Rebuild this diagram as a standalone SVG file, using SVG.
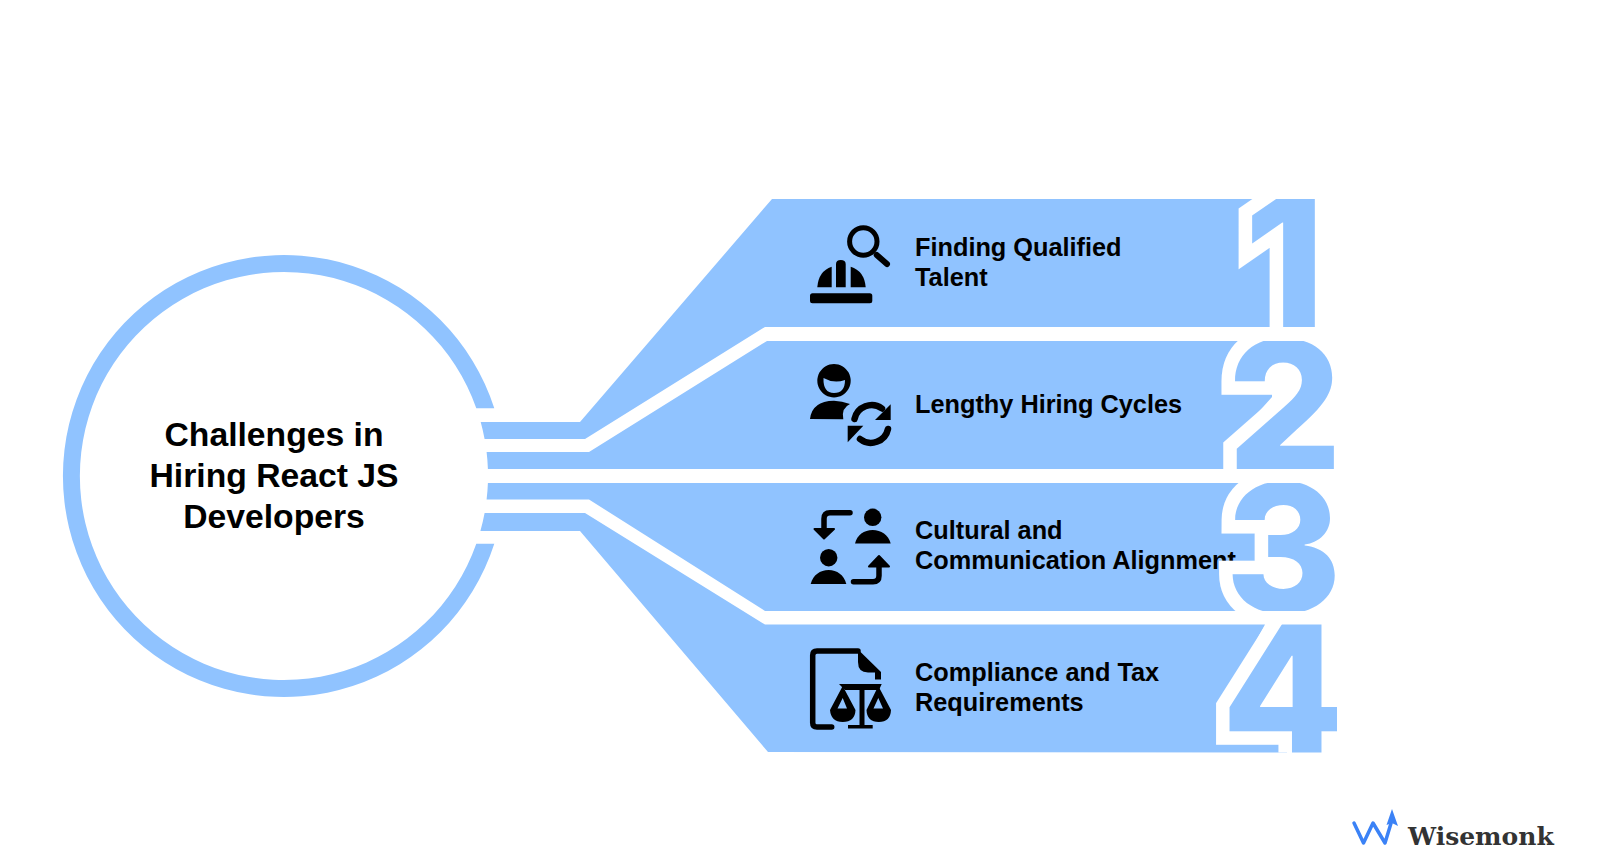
<svg xmlns="http://www.w3.org/2000/svg" width="1600" height="860" viewBox="0 0 1600 860">
<style>
.b{fill:#90C3FF}
.k{fill:#000}
.s{fill:none;stroke:#000;stroke-width:5.5;stroke-linecap:round;stroke-linejoin:round}
.r{fill:none;stroke:#000;stroke-width:6.5;stroke-linecap:round}
.t{font-family:"Liberation Sans",Arial,sans-serif;font-weight:700;font-size:25.3px;fill:#000}
.h{font-family:"Liberation Sans",Arial,sans-serif;font-weight:700;font-size:33.7px;fill:#000;text-anchor:middle}
.d{font-family:Inter,"Liberation Sans",sans-serif;font-weight:760;font-size:184px;fill:#90C3FF;stroke:#fff;stroke-width:27px;paint-order:stroke;stroke-linejoin:miter}
.e{font-size:178px;font-weight:780}
</style>
<defs>
<clipPath id="c1"><rect x="1100" y="199" width="300" height="128"/></clipPath>
<clipPath id="c2"><rect x="1100" y="341" width="300" height="128"/></clipPath>
<clipPath id="c3"><rect x="1100" y="483" width="300" height="128"/></clipPath>
<clipPath id="c4"><rect x="1100" y="624.5" width="300" height="128"/></clipPath>
</defs>
<rect width="1600" height="860" fill="#fff"/>
<g id="hub">
<path class="b" d="M494.3,408.3A221,221 0 1 0 494.3,543.7L476.3,543.7A204,204 0 1 1 476.3,408.3Z"/>
<text class="h" x="274" y="446">Challenges in</text>
<text class="h" x="274" y="486.5">Hiring React JS</text>
<text class="h" x="274" y="527.5">Developers</text>
</g>
<g id="node-1">
<path class="b" d="M480.7,422H580L772,199H1300V327H765L585,439H484.6A204,204 0 0 0 480.7,422Z"/>
<g id="icon-1">
<circle cx="863.3" cy="241.5" r="13.7" fill="none" stroke="#000" stroke-width="5"/>
<path d="M876.7,255L887,264" fill="none" stroke="#000" stroke-width="6" stroke-linecap="round"/>
<rect class="k" x="810" y="293.3" width="62.3" height="10" rx="2.5"/>
<path class="k" d="M836,287.3V264q0,-4 4.8,-4t4.9,4V287.3Z"/>
<path class="k" d="M817.3,287.3H831.7V266.7Q818.5,271 817.3,287.3Z"/>
<path class="k" d="M850.7,287.3H865.7Q864.5,271 850.7,266.7Z"/>
</g>
<text class="t" x="915" y="255.5">Finding Qualified</text>
<text class="t" x="915" y="286">Talent</text>
<text class="d" x="1244" y="329" clip-path="url(#c1)">1</text>
</g>
<g id="node-2">
<path class="b" d="M486.6,452H589L767,341H1247L1227,360V386H1272V397L1229,445V469H487.9A204,204 0 0 0 486.6,452Z"/>
<g id="icon-2">
<path class="k" fill-rule="evenodd" d="M834,364a16.7,16.7 0 1 0 0.01,0ZM823.5,378Q834,384 845,380Q845,393 834,393Q823,393 823.5,378Z"/>
<path class="k" d="M810,419Q812,401 834,400.7Q842,401 850,404Q841,408 843.3,419.3Z"/>
<path class="r" d="M854.5,419A17.5,17.5 0 0 1 882,408.5"/>
<path class="k" d="M890.7,404.3V420H875Z"/>
<path class="r" d="M888,429A17.5,17.5 0 0 1 860,439"/>
<path class="k" d="M847.7,425.7H863.3L847.7,442.3Z"/>
</g>
<text class="t" x="915" y="412.5">Lengthy Hiring Cycles</text>
<text class="d" x="1227" y="470.5" style="font-size:181px" clip-path="url(#c2)">2</text>
</g>
<g id="node-3">
<path class="b" d="M487.9,483H1247L1230,505V524H1260V567H1227V590L1245,611H765L589,499.5H486.6A204,204 0 0 0 487.9,483Z"/>
<g id="icon-3">
<path class="s" d="M850,512.7H830q-6,0 -6,6V530"/>
<path class="k" stroke="#000" stroke-width="2" stroke-linejoin="round" d="M814.5,529H834L824,538.5Z"/>
<circle class="k" cx="872.7" cy="517.3" r="8.7"/>
<path class="k" d="M855,543.5C857,535 864,530 872.7,530C881,530 888.5,535 890.7,543.5Z"/>
<circle class="k" cx="828.7" cy="557.7" r="8.7"/>
<path class="k" d="M810.7,584C813,575 820,570 828.7,570C837,570 844,575 846.3,584Z"/>
<path class="s" d="M853.5,581.7H873q6,0 6,-6V566"/>
<path class="k" stroke="#000" stroke-width="2" stroke-linejoin="round" d="M869,566.5H889L879,556Z"/>
</g>
<text class="t" x="915" y="539">Cultural and</text>
<text class="t" x="915" y="569">Communication Alignment</text>
<text class="d e" x="1225" y="611.5" clip-path="url(#c3)">3</text>
</g>
<g id="node-4">
<path class="b" d="M484.6,513H585L765,624.5H1265L1222,703V737H1287V752.5L768,752L580,531H480.4A204,204 0 0 0 484.6,513Z"/>
<g id="icon-4">
<path class="s" stroke-linecap="butt" d="M831.7,727H817q-4.3,0 -4.3,-4.3V655.3q0,-4.3 4.3,-4.3H858"/>
<path class="k" d="M858,649.5L881,672V679.5H875V672.5H868Q858,672.5 858,662Z"/>
<path class="k" d="M839,684H881.7L879,690H864.5V725H872.7V728.5H848V725H859.5V690H845Z"/>
<path class="k" fill-rule="evenodd" d="M842.7,686L830,710Q831,722 842.7,722Q855,722 855.5,710ZM837.5,708.5H847L842.7,698Z"/>
<path class="k" fill-rule="evenodd" d="M878.3,686L866.5,710Q867,722 878.8,722Q890.5,722 891,710ZM873.5,708.5H883L878.3,698Z"/>
</g>
<text class="t" x="915" y="680.7">Compliance and Tax</text>
<text class="t" x="915" y="710.7">Requirements</text>
<text class="d e" x="1221.5" y="753" clip-path="url(#c4)">4</text>
</g>
<g id="connectors"></g>
<g id="logo">
<path d="M1354,823L1363.5,843L1373,823L1385,843L1392,820" fill="none" stroke="#3B82F6" stroke-width="3.5" stroke-linejoin="round" stroke-linecap="round"/>
<path d="M1392,809L1398,826L1392,823L1386.5,825Z" fill="#3B82F6"/>
<text x="1408" y="845" font-family="'DejaVu Serif',serif" font-weight="700" font-size="25" fill="#333">Wisemonk</text>
</g>
</svg>
